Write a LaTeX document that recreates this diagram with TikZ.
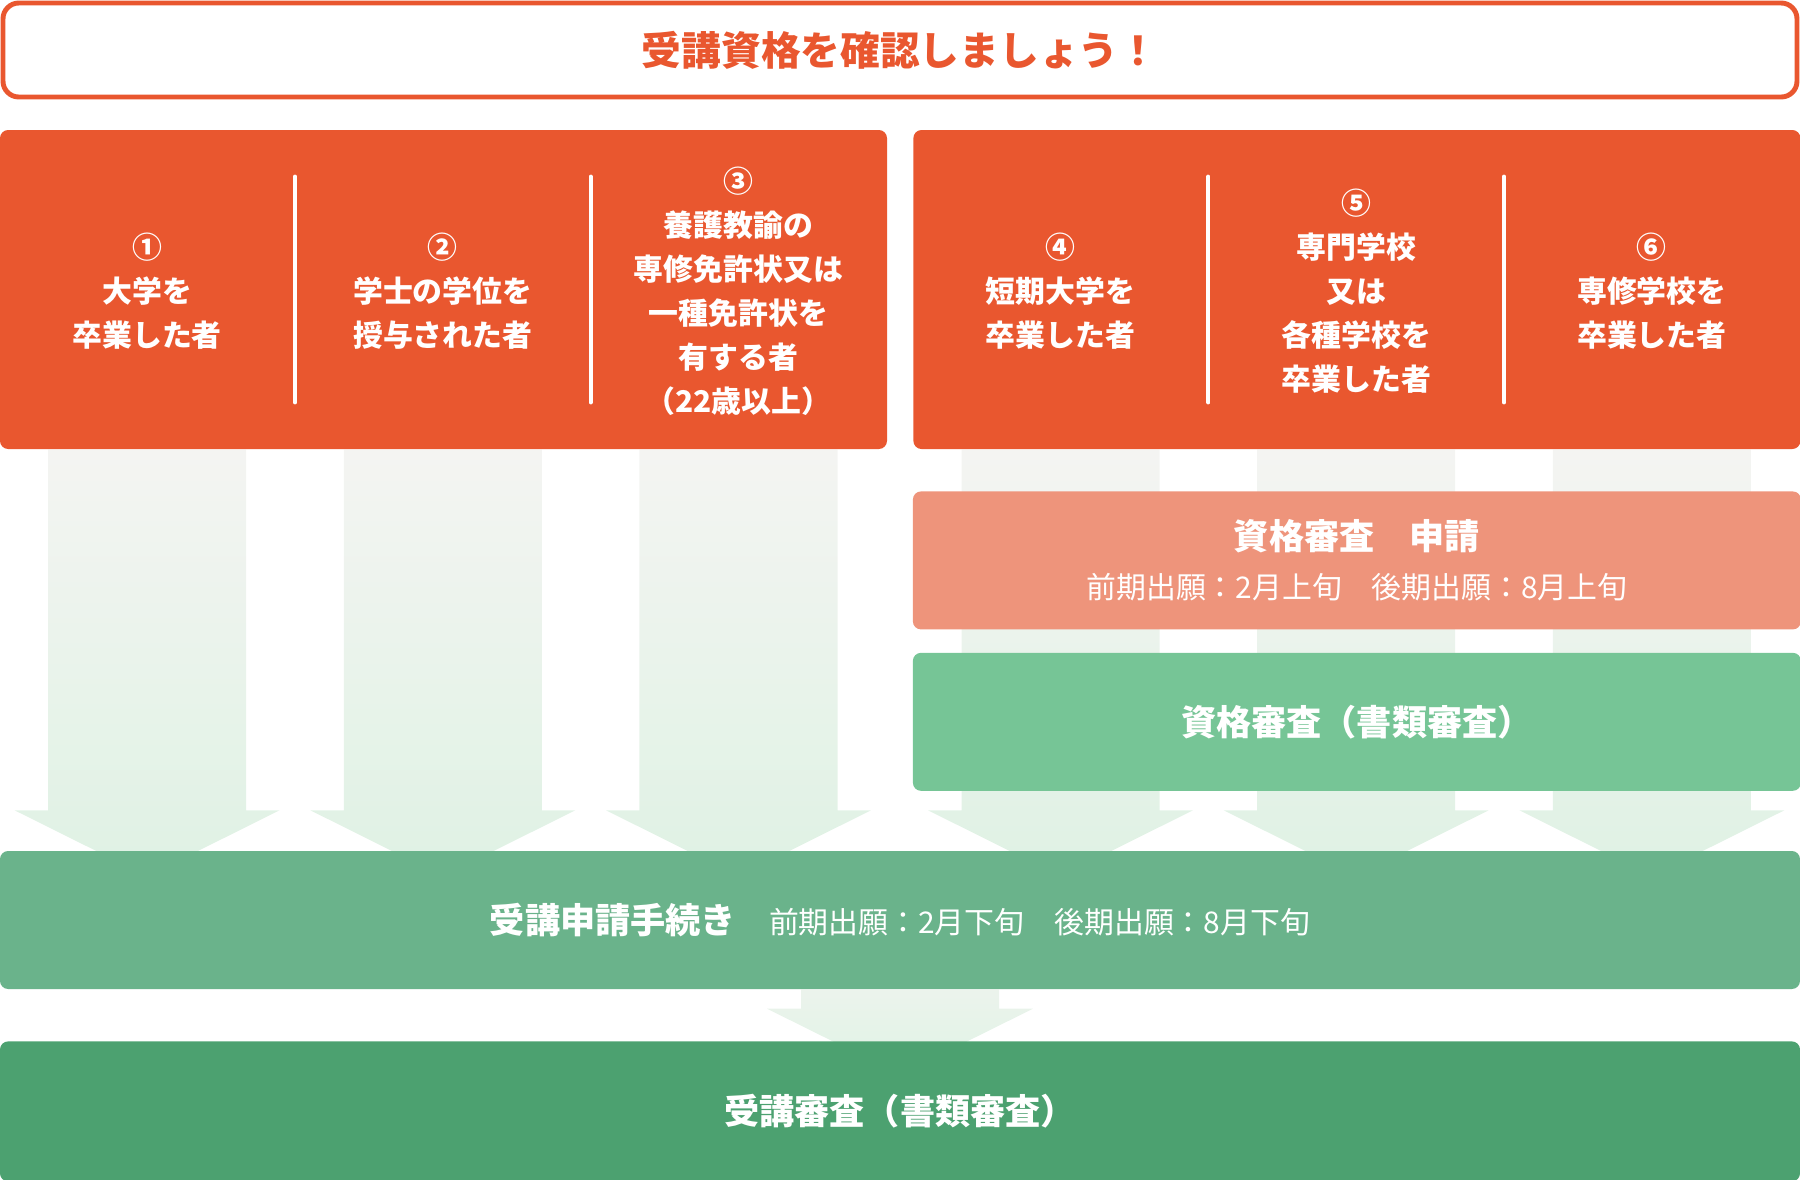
\documentclass[tikz,border=0pt]{standalone}
\usepackage{fontspec}
\setmainfont{Noto Sans CJK JP}
\usetikzlibrary{positioning, calc, backgrounds}

\definecolor{orng}{HTML}{E9572F}
\definecolor{salm}{HTML}{EE947B}
\definecolor{grn1}{HTML}{76C596}
\definecolor{grn2}{HTML}{6AB38B}
\definecolor{grn3}{HTML}{4CA170}
\definecolor{agray}{HTML}{F4F4F2}
\definecolor{agreen}{HTML}{DFF2E4}

\begin{document}
\begin{tikzpicture}[
  panel/.style={rectangle,fill=orng,rounded corners=2.3pt,minimum width=8.87cm,minimum height=3.19cm,inner sep=0pt},
  col/.style={align=center,text=white,font=\bfseries\fontsize{8.5}{12.5}\selectfont},
  sep/.style={draw=white,line width=1.1pt,line cap=round},
  bar/.style={rectangle,rounded corners=2.3pt,text=white,inner sep=0pt,minimum height=1.38cm},
  big/.style={top color=agray,bottom color=agreen}
]
  \useasboundingbox (0,0) rectangle (18,-11.8);

  \node[draw=orng,line width=1.4pt,rounded corners=4.5pt,minimum width=17.94cm,minimum height=0.94cm,text=orng,font=\bfseries\fontsize{11.3}{13}\selectfont](ttl) at (9,-0.5) {受講資格を確認しましょう！};

  \node[panel](lp) at (4.435,-2.895) {};
  \node[panel,right=0.25cm of lp](rp) {};

  \node[col](c1) at ([xshift=1.478cm,yshift=-0.02cm]lp.west) {①\\大学を\\卒業した者};
  \node[col](c2) at ([xshift=4.435cm,yshift=-0.02cm]lp.west) {②\\学士の学位を\\授与された者};
  \node[col](c3) at ([xshift=7.392cm,yshift=-0.02cm]lp.west) {③\\養護教諭の\\専修免許状又は\\一種免許状を\\有する者\\（22歳以上）};
  \node[col](c4) at ([xshift=1.478cm,yshift=-0.02cm]rp.west) {④\\短期大学を\\卒業した者};
  \node[col](c5) at ([xshift=4.435cm,yshift=-0.02cm]rp.west) {⑤\\専門学校\\又は\\各種学校を\\卒業した者};
  \node[col](c6) at ([xshift=7.392cm,yshift=-0.02cm]rp.west) {⑥\\専修学校を\\卒業した者};

  \foreach \p in {lp,rp}{\foreach \k in {1,2}{\draw[sep] ([xshift=\k*2.957cm,yshift=1.13cm]\p.west) -- ++(0,-2.26);}}

  \node[bar,fill=salm,minimum width=8.88cm,below=0.41cm of rp,align=center,font=\fontsize{8.5}{14}\selectfont](ap) {{\bfseries\fontsize{10}{14}\selectfont 資格審査　申請}\\前期出願：2月上旬　後期出願：8月上旬};
  \node[bar,fill=grn1,minimum width=8.88cm,below=0.22cm of ap,font=\bfseries\fontsize{10}{12}\selectfont](g1) {資格審査（書類審査）};

  \node[bar,fill=grn2,minimum width=18cm,font=\fontsize{8.5}{12}\selectfont](bar) at (9,-9.2) {{\bfseries\fontsize{10}{12}\selectfont 受講申請手続き}\hspace{0.33cm}前期出願：2月下旬　後期出願：8月下旬};
  \node[bar,fill=grn3,minimum width=18cm,minimum height=1.4cm,below=0.51cm of bar,font=\bfseries\fontsize{10}{12}\selectfont](fin) {受講審査（書類審査）};

  % big arrows behind the boxes
  \begin{scope}[on background layer]
    \foreach \c in {c1,c2,c3,c4,c5,c6}{
      \shade[big] let \p1=(\c), \p2=(lp.south), \p3=(bar.north) in
        (\x1-0.99cm,\y2) -- (\x1-0.99cm,\y3+0.4cm) -- (\x1-1.325cm,\y3+0.4cm) -- (\x1,\y3-0.26cm)
        -- (\x1+1.325cm,\y3+0.4cm) -- (\x1+0.99cm,\y3+0.4cm) -- (\x1+0.99cm,\y2) -- cycle;
    }
    \shade[top color=agray!60!agreen,bottom color=agreen] let \p1=(bar.south), \p2=(fin.north) in
      (\x1-0.99cm,\y1) -- (\x1-0.99cm,\y2+0.32cm) -- (\x1-1.33cm,\y2+0.32cm) -- (\x1,\y2-0.34cm)
      -- (\x1+1.33cm,\y2+0.32cm) -- (\x1+0.99cm,\y2+0.32cm) -- (\x1+0.99cm,\y1) -- cycle;
  \end{scope}
\end{tikzpicture}
\end{document}
